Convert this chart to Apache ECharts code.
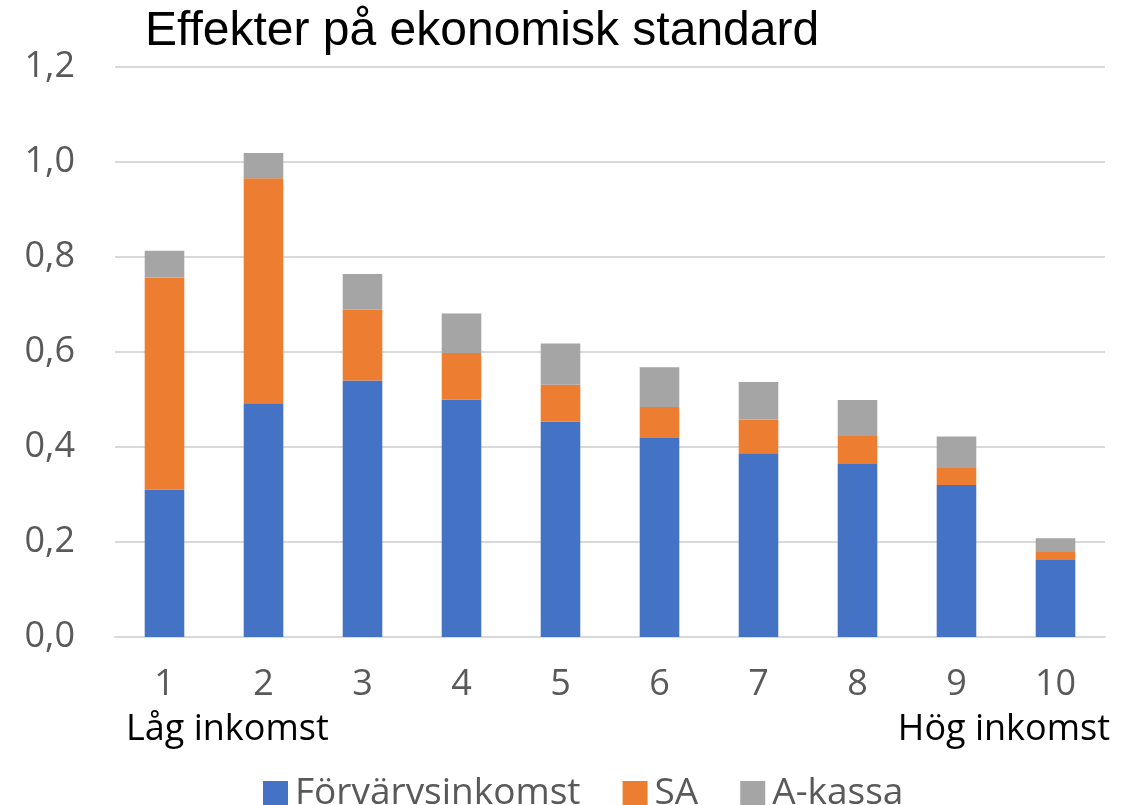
<!DOCTYPE html>
<html>
<head>
<meta charset="utf-8">
<script src="https://cdn.jsdelivr.net/npm/echarts@6/dist/echarts.min.js"></script>
<style>
  html, body { margin: 0; padding: 0; background: #fff; }
  #chart { width: 1134px; height: 805px; }
</style>
</head>
<body>
<div id="chart"></div>
<script>
var deciler = ['1', '2', '3', '4', '5', '6', '7', '8', '9', '10'];
var forvarvsinkomst = [0.310, 0.492, 0.540, 0.500, 0.453, 0.419, 0.387, 0.364, 0.320, 0.162];
var sa = [0.447, 0.474, 0.149, 0.098, 0.078, 0.065, 0.071, 0.059, 0.036, 0.017];
var akassa = [0.056, 0.053, 0.075, 0.083, 0.087, 0.084, 0.079, 0.076, 0.066, 0.029];

var font = 'Open Sans';
var myChart = echarts.init(document.getElementById('chart'));

var option = {
    animation: false,
    backgroundColor: '#fff',
    title: {
        text: 'Effekter på ekonomisk standard',
        left: 140,
        top: 3,
        textStyle: { fontFamily: 'Liberation Sans', fontSize: 48, fontWeight: 'normal', color: '#000' }
    },
    legend: {
        left: 258,
        top: 770,
        itemWidth: 25,
        itemHeight: 25,
        itemGap: 42,
        icon: 'rect',
        textStyle: { fontFamily: font, fontSize: 37, color: '#595959', padding: [0, 0, 0, 2] },
        data: ['Förvärvsinkomst', 'SA', 'A-kassa']
    },
    grid: { left: 115, right: 29, top: 67, bottom: 168 },
    xAxis: {
        type: 'category',
        data: deciler,
        axisLine: { lineStyle: { color: '#d9d9d9', width: 2 } },
        axisTick: { show: false },
        axisLabel: { fontFamily: font, fontSize: 36, color: '#595959', margin: 30 }
    },
    yAxis: {
        type: 'value',
        min: 0,
        max: 1.2,
        interval: 0.2,
        axisLine: { show: false },
        axisTick: { show: false },
        splitLine: { lineStyle: { color: '#d9d9d9', width: 2 } },
        axisLabel: {
            fontFamily: font, fontSize: 36, color: '#595959', margin: 40,
            formatter: function (v) { return v.toFixed(1).replace('.', ','); }
        }
    },
    graphic: [
        { type: 'text', left: 126, top: 712, style: { text: 'Låg inkomst', font: '36px "Open Sans"', fill: '#000' } },
        { type: 'text', right: 24, top: 712, style: { text: 'Hög inkomst', font: '36px "Open Sans"', fill: '#000' } }
    ],
    series: [
        { name: 'Förvärvsinkomst', type: 'bar', stack: 'tot', barWidth: '40%', itemStyle: { color: '#4472C4' }, data: forvarvsinkomst },
        { name: 'SA', type: 'bar', stack: 'tot', itemStyle: { color: '#ED7D31' }, data: sa },
        { name: 'A-kassa', type: 'bar', stack: 'tot', itemStyle: { color: '#A5A5A5' }, data: akassa }
    ]
};
myChart.setOption(option);
</script>
</body>
</html>
